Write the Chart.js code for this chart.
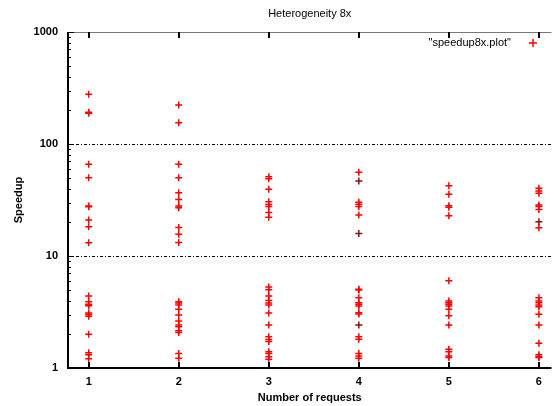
<!DOCTYPE html>
<html lang="en">
<head>
  <meta charset="UTF-8" />
  <title>Heterogeneity 8x</title>
  <script src="https://cdn.jsdelivr.net/npm/chart.js"></script>
  <style>
    body { margin: 0; background: #fff; }
    .chart-box { position: relative; width: 557px; height: 406px; }
  </style>
</head>
<body>
  <div class="chart-box">
    <canvas id="speedupChart"></canvas>
  </div>
  <script>
    // Number of requests (x categories)
    const requests = [1, 2, 3, 4, 5, 6];

    // Speedup values, one list per request count
    const speedup1 = [278, 192, 188, 66, 50, 28, 27.5, 21, 18.2, 13.1, 4.4, 3.9, 3.7, 3.6, 3.1, 3.0, 2.9, 2.0, 1.37, 1.31, 1.21];
    const speedup2 = [223, 155, 66, 50, 36.7, 32, 28, 27, 18, 15.6, 13.2, 3.9, 3.8, 3.65, 3.35, 2.97, 2.63, 2.42, 2.34, 2.15, 2.07, 1.35, 1.22];
    const speedup3 = [51, 49, 39.4, 30.5, 28.9, 27.6, 24.4, 22.2, 5.3, 5.0, 4.4, 4.0, 3.8, 3.65, 3.1, 2.42, 1.9, 1.8, 1.72, 1.4, 1.35, 1.26, 1.2];
    const speedup4 = [56, 30.2, 29, 27.6, 23.2, 5.04, 4.97, 4.24, 3.83, 3.7, 3.57, 3.12, 3.03, 1.9, 1.81, 1.35, 1.28, 1.22];
    const speedup5 = [42.4, 35.6, 28.1, 27.2, 22.9, 6.0, 3.96, 3.83, 3.7, 3.57, 3.34, 2.93, 2.42, 1.47, 1.4, 1.28, 1.24];
    const speedup6 = [40.2, 38.1, 36.3, 28.5, 27.6, 26, 17.9, 4.24, 3.96, 3.83, 3.65, 3.53, 3.02, 2.42, 1.66, 1.31, 1.26, 1.24];

    // A few points drawn darker in the picture (second overlaid run)
    const darkX = [4, 4, 4, 6];
    const darkY = [46.7, 15.9, 2.42, 20.2];

    // Axis ticks
    const yMajor = [1, 10, 100, 1000];
    const yMinor = [2, 3, 4, 5, 6, 7, 8, 9, 20, 30, 40, 50, 60, 70, 80, 90, 200, 300, 400, 500, 600, 700, 800, 900];
    const yGrid = [10, 100];

    const allSpeedups = [speedup1, speedup2, speedup3, speedup4, speedup5, speedup6];
    const redPoints = [];
    requests.forEach((r, i) => allSpeedups[i].forEach(v => redPoints.push({ x: r, y: v })));
    const darkPoints = darkX.map((x, i) => ({ x: x, y: darkY[i] }));

    const FONT = 'Liberation Sans, Arial, sans-serif';

    // gnuplot style: dotted grid, inward ticks, mirrored top ticks, title and key
    const gnuplotDecor = {
      id: 'gnuplotDecor',
      beforeDatasetsDraw(chart) {
        const ctx = chart.ctx;
        const a = chart.chartArea;
        const ys = chart.scales.y;
        ctx.save();
        ctx.strokeStyle = '#000';
        ctx.lineWidth = 1;
        ctx.setLineDash([3, 2, 1, 2]);
        yGrid.forEach(v => {
          const py = Math.round(ys.getPixelForValue(v)) + 0.5;
          ctx.beginPath();
          ctx.moveTo(a.left, py);
          ctx.lineTo(a.right, py);
          ctx.stroke();
        });
        ctx.restore();
      },
      afterDraw(chart) {
        const ctx = chart.ctx;
        const a = chart.chartArea;
        const xs = chart.scales.x, ys = chart.scales.y;
        ctx.save();
        // top border (thin)
        ctx.strokeStyle = '#777';
        ctx.lineWidth = 1;
        ctx.beginPath();
        ctx.moveTo(a.left, a.top + 0.5);
        ctx.lineTo(a.right, a.top + 0.5);
        ctx.stroke();
        // left + bottom axes
        ctx.strokeStyle = '#000';
        ctx.lineWidth = 2;
        ctx.beginPath();
        ctx.moveTo(a.left, a.top);
        ctx.lineTo(a.left, a.bottom);
        ctx.lineTo(a.right, a.bottom);
        ctx.stroke();
        // y ticks (inward)
        ctx.lineWidth = 1;
        yMajor.concat(yMinor).forEach(v => {
          const py = Math.round(ys.getPixelForValue(v)) + 0.5;
          const len = yMajor.includes(v) ? 6 : 3;
          ctx.beginPath();
          ctx.moveTo(a.left, py);
          ctx.lineTo(a.left + len, py);
          ctx.stroke();
        });
        // x ticks (inward, bottom and top)
        ctx.lineWidth = 2;
        requests.forEach(r => {
          const px = Math.round(xs.getPixelForValue(r));
          ctx.beginPath();
          ctx.moveTo(px, a.bottom);
          ctx.lineTo(px, a.bottom - 6);
          ctx.moveTo(px, a.top);
          ctx.lineTo(px, a.top + 6);
          ctx.stroke();
        });
        // title
        ctx.fillStyle = '#000';
        ctx.font = '11px ' + FONT;
        ctx.textAlign = 'center';
        ctx.textBaseline = 'middle';
        ctx.fillText('Heterogeneity 8x', (a.left + a.right) / 2, 14);
        // key
        ctx.textAlign = 'right';
        ctx.fillText('"speedup8x.plot"', 511, 43);
        ctx.strokeStyle = '#ff0000';
        ctx.lineWidth = 1.5;
        ctx.beginPath();
        ctx.moveTo(529, 43); ctx.lineTo(537, 43);
        ctx.moveTo(533, 39); ctx.lineTo(533, 47);
        ctx.stroke();
        ctx.restore();
      }
    };

    const ctx = document.getElementById('speedupChart').getContext('2d');
    new Chart(ctx, {
      type: 'scatter',
      data: {
        datasets: [
          {
            label: 'speedup8x.plot',
            data: redPoints,
            pointStyle: 'cross',
            pointRadius: 3.5,
            pointBorderWidth: 1.5,
            borderColor: '#ff0000',
            backgroundColor: '#ff0000'
          },
          {
            label: 'speedup1x.plot',
            data: darkPoints,
            pointStyle: 'cross',
            pointRadius: 3.5,
            pointBorderWidth: 1.5,
            borderColor: '#8b1010',
            backgroundColor: '#8b1010'
          }
        ]
      },
      options: {
        responsive: true,
        maintainAspectRatio: false,
        animation: false,
        layout: { padding: { top: 32, right: 0, left: 0, bottom: 0 } },
        plugins: { legend: { display: false }, title: { display: false }, tooltip: { enabled: false } },
        scales: {
          x: {
            type: 'linear',
            min: 0.77,
            max: 6.14,
            afterBuildTicks: s => { s.ticks = requests.map(v => ({ value: v })); },
            afterFit: s => { s.height = 38; },
            grid: { display: false, drawTicks: false },
            border: { display: false },
            ticks: { padding: 7, color: '#000', font: { family: FONT, size: 11, weight: 'bold' } },
            title: { display: true, text: 'Number of requests', color: '#000', padding: { top: 0, bottom: 1 }, font: { family: FONT, size: 11, weight: 'bold' } }
          },
          y: {
            type: 'logarithmic',
            min: 1,
            max: 1000,
            afterBuildTicks: s => { s.ticks = yMajor.concat(yMinor).sort((a, b) => a - b).map(v => ({ value: v })); },
            afterFit: s => { s.width = 68; },
            grid: { display: false, drawTicks: false },
            border: { display: false },
            ticks: {
              padding: 10,
              color: '#000',
              autoSkip: false,
              font: { family: FONT, size: 11, weight: 'bold' },
              callback: v => yMajor.includes(v) ? String(v) : ''
            },
            title: { display: true, text: 'Speedup', color: '#000', padding: { top: 12, bottom: 0 }, font: { family: FONT, size: 11, weight: 'bold' } }
          }
        }
      },
      plugins: [gnuplotDecor]
    });
  </script>
</body>
</html>
